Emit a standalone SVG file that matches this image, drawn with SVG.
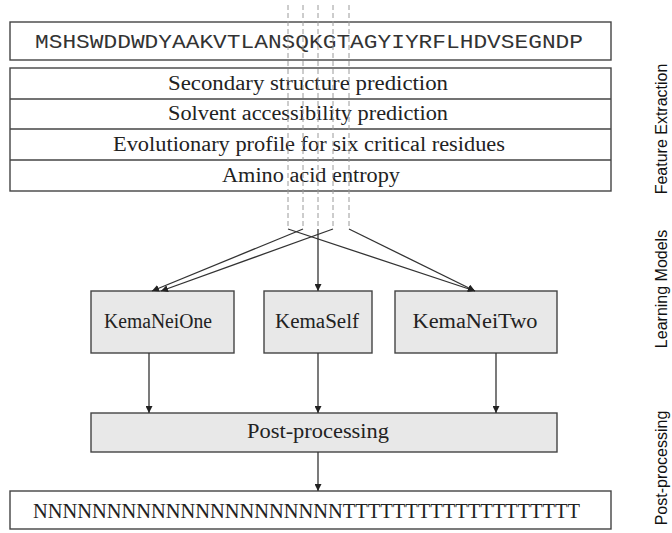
<svg xmlns="http://www.w3.org/2000/svg" width="672" height="533" viewBox="0 0 672 533">
  <style>
    .box { fill: #ffffff; stroke: #444444; stroke-width: 1.4; }
    .model { fill: #e8e8e8; stroke: #444444; stroke-width: 1.4; }
    .rule { stroke: #444444; stroke-width: 1.4; }
    .mono { font-family: "Liberation Mono", "Courier New", monospace; font-size: 20px; fill: #333333; }
    .serif { font-family: "Liberation Serif", "Times New Roman", serif; font-size: 20px; fill: #222222; }
    .side { font-family: "Liberation Sans", Arial, sans-serif; font-size: 16px; fill: #111111; }
    .dash { stroke: #9a9a9a; stroke-width: 1; stroke-dasharray: 5 3; fill: none; }
    .wire { stroke: #333333; stroke-width: 1.3; fill: none; }
  </style>
  <defs>
    <marker id="arrow" viewBox="0 0 10 10" refX="10" refY="5" markerWidth="7" markerHeight="7" markerUnits="userSpaceOnUse" orient="auto">
      <path d="M0,0 L10,5 L0,10 z" fill="#222222"/>
    </marker>
  </defs>

  <!-- input sequence -->
  <g id="sequence">
    <rect class="box" x="10" y="22" width="601" height="38"/>
    <text class="mono" x="35" y="48" textLength="548" lengthAdjust="spacingAndGlyphs">MSHSWDDWDYAAKVTLANSQKGTAGYIYRFLHDVSEGNDP</text>
  </g>

  <!-- feature table -->
  <g id="features">
    <rect class="box" x="10" y="68" width="601" height="123"/>
    <line class="rule" x1="10" y1="99" x2="611" y2="99"/>
    <line class="rule" x1="10" y1="129" x2="611" y2="129"/>
    <line class="rule" x1="10" y1="160" x2="611" y2="160"/>
    <text class="serif" x="308" y="90" text-anchor="middle" textLength="280" lengthAdjust="spacingAndGlyphs">Secondary structure prediction</text>
    <text class="serif" x="308" y="120" text-anchor="middle" textLength="280" lengthAdjust="spacingAndGlyphs">Solvent accessibility prediction</text>
    <text class="serif" x="309" y="151" text-anchor="middle" textLength="392" lengthAdjust="spacingAndGlyphs">Evolutionary profile for six critical residues</text>
    <text class="serif" x="311" y="182" text-anchor="middle" textLength="178" lengthAdjust="spacingAndGlyphs">Amino acid entropy</text>
  </g>

  <!-- learning models -->
  <g id="kemaneione">
    <rect class="model" x="91" y="291" width="143" height="62"/>
    <text class="serif" x="158" y="328" text-anchor="middle" textLength="108" lengthAdjust="spacingAndGlyphs">KemaNeiOne</text>
  </g>
  <g id="kemaself">
    <rect class="model" x="264" y="291" width="108" height="62"/>
    <text class="serif" x="317" y="328" text-anchor="middle" textLength="84" lengthAdjust="spacingAndGlyphs">KemaSelf</text>
  </g>
  <g id="kemaneitwo">
    <rect class="model" x="395" y="291" width="162" height="62"/>
    <text class="serif" x="475" y="328" text-anchor="middle" textLength="125" lengthAdjust="spacingAndGlyphs">KemaNeiTwo</text>
  </g>

  <!-- post-processing -->
  <g id="postprocessing">
    <rect class="model" x="91" y="413" width="466" height="39"/>
    <text class="serif" x="318" y="438" text-anchor="middle" textLength="142" lengthAdjust="spacingAndGlyphs">Post-processing</text>
  </g>

  <!-- output labels -->
  <g id="output">
    <rect class="box" x="10" y="491" width="601" height="38"/>
    <text class="serif" x="33" y="518" textLength="547" lengthAdjust="spacingAndGlyphs">NNNNNNNNNNNNNNNNNNNNNTTTTTTTTTTTTTTTTTTT</text>
  </g>

  <!-- stage labels -->
  <g id="stages">
    <text class="side" transform="translate(667,129) rotate(-90)" text-anchor="middle">Feature Extraction</text>
    <text class="side" transform="translate(667,289) rotate(-90)" text-anchor="middle">Learning Models</text>
    <text class="side" transform="translate(667,468) rotate(-90)" text-anchor="middle">Post-processing</text>
  </g>

  <!-- connectors -->
  <g id="connectors">
    <line class="dash" x1="288" y1="5" x2="288" y2="228"/>
    <line class="dash" x1="303" y1="5" x2="303" y2="228"/>
    <line class="dash" x1="318" y1="5" x2="318" y2="228"/>
    <line class="dash" x1="333" y1="5" x2="333" y2="228"/>
    <line class="dash" x1="349" y1="5" x2="349" y2="228"/>

    <line class="wire" x1="303" y1="229" x2="152" y2="291" marker-end="url(#arrow)"/>
    <line class="wire" x1="333" y1="229" x2="161" y2="291" marker-end="url(#arrow)"/>
    <line class="wire" x1="318" y1="229" x2="318" y2="291" marker-end="url(#arrow)"/>
    <line class="wire" x1="288" y1="229" x2="475" y2="291" marker-end="url(#arrow)"/>
    <line class="wire" x1="349" y1="229" x2="475" y2="291" marker-end="url(#arrow)"/>

    <line class="wire" x1="149" y1="353" x2="149" y2="413" marker-end="url(#arrow)"/>
    <line class="wire" x1="318" y1="353" x2="318" y2="413" marker-end="url(#arrow)"/>
    <line class="wire" x1="496" y1="353" x2="496" y2="413" marker-end="url(#arrow)"/>
    <line class="wire" x1="318" y1="452" x2="318" y2="491" marker-end="url(#arrow)"/>
  </g>
</svg>
